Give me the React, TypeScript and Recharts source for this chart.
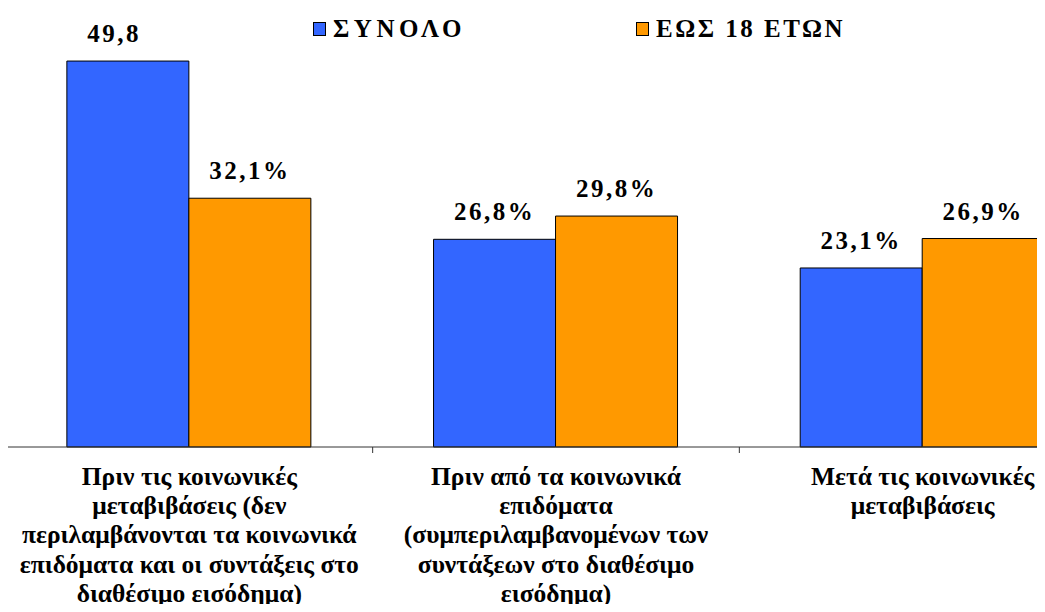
import React from 'react'
import { BarChart, Bar, XAxis, YAxis, LabelList } from 'recharts'

// categories (line breaks as in the original)
const categories = [
  'Πριν τις κοινωνικές\nμεταβιβάσεις (δεν\nπεριλαμβάνονται τα κοινωνικά\nεπιδόματα και οι συντάξεις στο\nδιαθέσιμο εισόδημα)',
  'Πριν από τα κοινωνικά\nεπιδόματα\n(συμπεριλαμβανομένων των\nσυντάξεων στο διαθέσιμο\nεισόδημα)',
  'Μετά τις κοινωνικές\nμεταβιβάσεις',
]
const totalValues = [49.8, 26.8, 23.1]
const under18Values = [32.1, 29.8, 26.9]
// the first label has no % sign in the original
const totalShowPct = [false, true, true]
const under18ShowPct = [true, true, true]

const seriesNames = ['ΣΥΝΟΛΟ', 'ΕΩΣ 18 ΕΤΩΝ']
const BLUE = '#3366FF'
const ORANGE = '#FF9900'
const FONT = '"Liberation Serif", "Times New Roman", serif'

const data = categories.map((name, i) => ({
  name,
  total: totalValues[i],
  under18: under18Values[i],
}))

const CHART_W = 1110
const CHART_H = 612
const MARGIN = { top: 59.5, right: 4, left: 6, bottom: 0 }
const BAND = (CHART_W - MARGIN.left - MARGIN.right) / categories.length

const fmt = (v: number) => v.toFixed(1).replace('.', ',')

const makeLabel = (showPct: boolean[]) => (props: any) => {
  const { x, y, width, value, index } = props
  return (
    <text
      x={x + width / 2}
      y={y - 19}
      textAnchor="middle"
      fontFamily={FONT}
      fontWeight="bold"
      fontSize={25}
      letterSpacing={2.5}
      fill="#000"
    >
      {fmt(value)}
      <tspan fillOpacity={showPct[index] ? 1 : 0}>%</tspan>
    </text>
  )
}

const CategoryTick = ({ x, y, payload }: any) => {
  const lines = String(payload.value).split('\n')
  return (
    <g>
      <line x1={x + BAND / 2} x2={x + BAND / 2} y1={y} y2={y + 6} stroke="#333" />
      <text
        x={x}
        y={y + 38}
        textAnchor="middle"
        fontFamily={FONT}
        fontWeight="bold"
        fontSize={25.5}
        fill="#000"
      >
        {lines.map((l, i) => (
          <tspan key={i} x={x} dy={i === 0 ? 0 : 29.2}>
            {l}
          </tspan>
        ))}
      </text>
    </g>
  )
}

const LegendItem = ({ color, label, left, spacing }: { color: string; label: string; left: number; spacing: number }) => (
  <div style={{ position: 'absolute', left, top: 17, display: 'flex', alignItems: 'center' }}>
    <div style={{ width: 11, height: 12, background: color, border: '1.5px solid #000' }} />
    <span
      style={{
        marginLeft: 7,
        fontFamily: FONT,
        fontWeight: 'bold',
        fontSize: 25,
        letterSpacing: spacing,
        lineHeight: '24px',
      }}
    >
      {label}
    </span>
  </div>
)

export default function App() {
  return (
    <div
      style={{
        position: 'relative',
        margin: -8,
        width: 1045,
        height: 612,
        overflow: 'hidden',
        background: '#fff',
      }}
    >
      <BarChart
        width={CHART_W}
        height={CHART_H}
        data={data}
        margin={MARGIN}
        barCategoryGap="16.6%"
        barGap={0}
      >
        <XAxis
          dataKey="name"
          height={CHART_H - 447}
          axisLine={{ stroke: '#333' }}
          tickLine={false}
          tickSize={0}
          tickMargin={0}
          interval={0}
          tick={<CategoryTick />}
        />
        <YAxis hide domain={[0, 50]} />
        <Bar dataKey="total" fill={BLUE} stroke="#000" strokeWidth={1} isAnimationActive={false}>
          <LabelList dataKey="total" content={makeLabel(totalShowPct)} />
        </Bar>
        <Bar dataKey="under18" fill={ORANGE} stroke="#000" strokeWidth={1} isAnimationActive={false}>
          <LabelList dataKey="under18" content={makeLabel(under18ShowPct)} />
        </Bar>
      </BarChart>
      <LegendItem color={BLUE} label={seriesNames[0]} left={313} spacing={4.5} />
      <LegendItem color={ORANGE} label={seriesNames[1]} left={636} spacing={2.5} />
    </div>
  )
}
